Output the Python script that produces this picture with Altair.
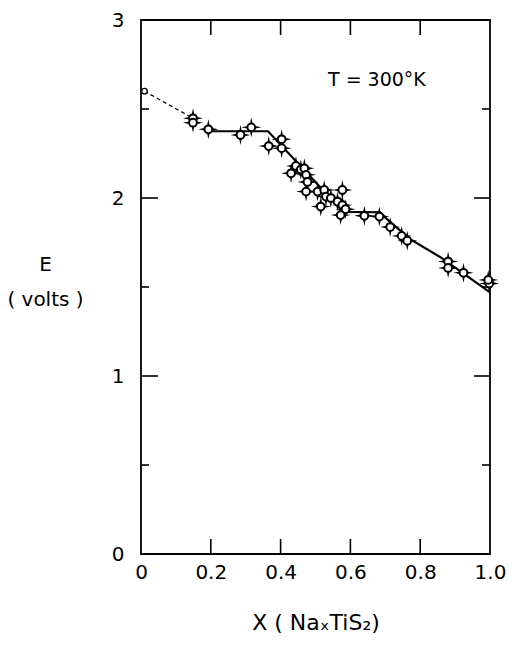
import altair as alt
import pandas as pd

# measured points (x, E)
pts_x = [0.149, 0.149, 0.193, 0.285, 0.316, 0.366, 0.403, 0.403, 0.444, 0.430,
         0.458, 0.468, 0.473, 0.477, 0.473, 0.506, 0.525, 0.530, 0.544, 0.515,
         0.563, 0.577, 0.577, 0.586, 0.572, 0.640, 0.683, 0.714, 0.747, 0.763,
         0.880, 0.880, 0.924, 0.998, 0.995]
pts_y = [2.448, 2.423, 2.386, 2.354, 2.397, 2.292, 2.330, 2.280, 2.180, 2.139,
         2.160, 2.167, 2.130, 2.090, 2.036, 2.036, 2.045, 2.008, 2.000, 1.952,
         1.980, 2.045, 1.960, 1.937, 1.904, 1.900, 1.896, 1.837, 1.787, 1.760,
         1.643, 1.607, 1.580, 1.520, 1.540]

# solid fitted curve
line_x = [0.20, 0.364, 0.58, 0.685, 0.70, 0.77, 0.86, 1.00]
line_y = [2.375, 2.375, 1.922, 1.920, 1.890, 1.770, 1.665, 1.470]

# dashed extrapolation and open end point
dash_x = [0.01, 0.141]
dash_y = [2.60, 2.457]
open_x = [0.01]
open_y = [2.60]

# annotation
note_x = [0.676]
note_y = [2.663]
note_text = ["T = 300°K"]

# tick positions
x_ticks = [0.2, 0.4, 0.6, 0.8]
y_major = [1, 2]
y_minor = [0.5, 1.5, 2.5]

W, H = 349, 534
FONT = "DejaVu Sans"

pts = pd.DataFrame({"x": pts_x, "y": pts_y})
line_df = pd.DataFrame({"x": line_x, "y": line_y})
dash_df = pd.DataFrame({"x": dash_x, "y": dash_y})
open_df = pd.DataFrame({"x": open_x, "y": open_y})
note_df = pd.DataFrame({"x": note_x, "y": note_y, "t": note_text})
xt = pd.DataFrame({"v": x_ticks})
ymaj = pd.DataFrame({"v": y_major})
ymin = pd.DataFrame({"v": y_minor})

xscale = alt.Scale(domain=[0, 1], nice=False, zero=False)
yscale = alt.Scale(domain=[0, 3], nice=False, zero=False)

xaxis = alt.Axis(values=[0, 0.2, 0.4, 0.6, 0.8, 1.0],
                 labelExpr="datum.value == 0 ? '0' : format(datum.value, '.1f')",
                 ticks=False, domain=False, grid=False,
                 labelFont=FONT, labelFontSize=20, labelColor="black",
                 labelPadding=8, labelFlush=False,
                 title="X ( NaₓTiS₂)", titleFont=FONT, titleFontSize=22,
                 titleFontWeight="normal", titleColor="black",
                 titleBaseline="top", titleY=58, titleX=W / 2)
yaxis = alt.Axis(values=[0, 1, 2, 3], format="d",
                 ticks=False, domain=False, grid=False,
                 labelFont=FONT, labelFontSize=20, labelColor="black",
                 labelPadding=17, labelFlush=False,
                 title=["E", "( volts )"], titleFont=FONT, titleFontSize=20,
                 titleFontWeight="normal", titleColor="black",
                 titleAngle=0, titleAlign="center", titleBaseline="top",
                 titleX=-96, titleY=234, titleLineHeight=35)

X = alt.X("x:Q", scale=xscale, axis=xaxis)
Y = alt.Y("y:Q", scale=yscale, axis=yaxis)

curve = alt.Chart(line_df).mark_line(color="black", strokeWidth=2.2).encode(
    x=X, y=Y, order="x:Q")
dashed = alt.Chart(dash_df).mark_line(color="black", strokeWidth=1.2,
                                      strokeDash=[4, 3]).encode(
    x=alt.X("x:Q", scale=xscale), y=alt.Y("y:Q", scale=yscale))
open_pt = alt.Chart(open_df).mark_point(shape="circle", size=30, filled=True,
                                        fill="white", stroke="black",
                                        strokeWidth=1.3, opacity=1).encode(
    x=alt.X("x:Q", scale=xscale), y=alt.Y("y:Q", scale=yscale))

star_path = "M0,-1L0.17,-0.17L1,0L0.17,0.17L0,1L-0.17,0.17L-1,0L-0.17,-0.17Z"
stars = alt.Chart(pts).mark_point(shape=star_path, size=400, filled=True,
                                  color="black", opacity=1).encode(
    x=alt.X("x:Q", scale=xscale), y=alt.Y("y:Q", scale=yscale))
circles = alt.Chart(pts).mark_point(shape="circle", size=60, filled=True,
                                    fill="white", stroke="black",
                                    strokeWidth=2, opacity=1).encode(
    x=alt.X("x:Q", scale=xscale), y=alt.Y("y:Q", scale=yscale))

note = alt.Chart(note_df).mark_text(font=FONT, fontSize=19, color="black",
                                    align="center", baseline="middle").encode(
    x=alt.X("x:Q", scale=xscale), y=alt.Y("y:Q", scale=yscale), text="t:N")

tick_style = dict(color="black", strokeWidth=1.6)
bot_ticks = alt.Chart(xt).mark_rule(**tick_style).encode(
    x=alt.X("v:Q", scale=xscale), y=alt.value(H), y2=alt.value(H - 15))
top_ticks = alt.Chart(xt).mark_rule(**tick_style).encode(
    x=alt.X("v:Q", scale=xscale), y=alt.value(0), y2=alt.value(15))
left_maj = alt.Chart(ymaj).mark_rule(**tick_style).encode(
    y=alt.Y("v:Q", scale=yscale), x=alt.value(0), x2=alt.value(17))
left_min = alt.Chart(ymin).mark_rule(**tick_style).encode(
    y=alt.Y("v:Q", scale=yscale), x=alt.value(0), x2=alt.value(8))
right_maj = alt.Chart(ymaj).mark_rule(**tick_style).encode(
    y=alt.Y("v:Q", scale=yscale), x=alt.value(W), x2=alt.value(W - 16))
right_min = alt.Chart(ymin).mark_rule(**tick_style).encode(
    y=alt.Y("v:Q", scale=yscale), x=alt.value(W), x2=alt.value(W - 8))

chart = alt.layer(
    curve, dashed, bot_ticks, top_ticks, left_maj, left_min, right_maj,
    right_min, stars, circles, open_pt, note
).properties(
    width=W, height=H,
    autosize=alt.AutoSizeParams(type="none"),
    padding={"left": 133, "top": 12, "right": 16, "bottom": 86},
    background="white",
).configure_view(stroke="black", strokeWidth=1.8)

chart.save("out.html", embed_options={"renderer": "svg", "actions": False})
